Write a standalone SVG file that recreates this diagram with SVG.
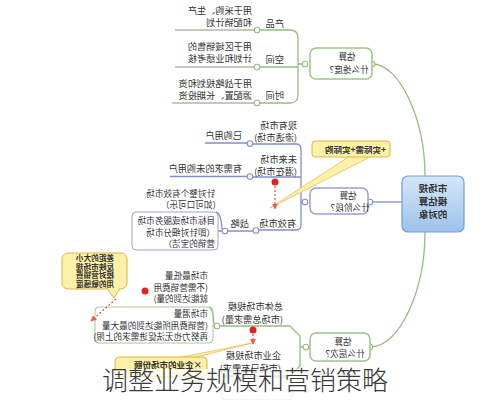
<svg xmlns="http://www.w3.org/2000/svg" width="490" height="400" viewBox="0 0 490 400">
<defs>
<linearGradient id="cg" x1="0" y1="0" x2="0" y2="1">
<stop offset="0" stop-color="#d6e7f9"/><stop offset="1" stop-color="#9dc2eb"/>
</linearGradient>
<marker id="ah" viewBox="0 0 8 8" refX="7" refY="4" markerWidth="5" markerHeight="5" orient="auto"><path d="M0,0 L8,4 L0,8 Z" fill="#e8603a"/></marker>
</defs>
<style>
text{font-family:"Noto Sans CJK SC","Noto Sans",sans-serif;fill:#333;font-size:9.2px}
.g{fill:none;stroke:#96bd84;stroke-width:1.3}
.p{fill:none;stroke:#858dcc;stroke-width:1.3}
.ulg{fill:none;stroke:#7f9a72;stroke-width:1}
.dg{fill:#fff;stroke:#96bd84;stroke-width:1.1}
.dp{fill:#fff;stroke:#858dcc;stroke-width:1.1}
.red{fill:#e02424}
.dash{fill:none;stroke:#e0504a;stroke-width:1.2;stroke-dasharray:2 2}
.call{fill:#fcf1a6;stroke:#e0b34c;stroke-width:1}
.tail{fill:#fcf1a6;stroke:#e6bc6a;stroke-width:0.8}
.b{font-weight:bold;font-size:8.5px}
.nd{font-size:8.6px;text-anchor:middle}
.sm{font-size:8.6px}
</style>
<rect width="490" height="400" fill="#fff"/>

<g id="connectors">
<path class="g" d="M372,64 C400,64 425,120 425,176"/>
<path class="p" d="M370,202 H402"/>
<path class="g" d="M370,347 C400,347 425,290 425,232"/>
<path class="g" d="M260,30 H290 Q298,30 298,38 V95 Q298,103 290,103 H260 M260,67 H298 M298,64 H302"/>
<path class="ulg" d="M175,30 H254 M175,67 H254 M172,103 H254"/>
<path class="p" d="M253,144 H296 Q301,144 301,149 V225 Q301,230 296,230 H259 M253,177 H301 M301,202 H302"/>
<path class="p" d="M205,143 H247 M170,176.5 H247 M228,231 H253 M222,231 H218 M222,229 Q221,213 216,212"/>
<path class="g" d="M220,326 H290 L300,336 V366 L290,376 H222 M300,347 H303 M214,326 H213 M214,324 Q213,308 209,307"/>
<circle class="dg" cx="372" cy="64" r="2.8"/>
<circle class="dg" cx="305" cy="64" r="2.8"/>
<circle class="dg" cx="257" cy="30" r="2.8"/>
<circle class="dg" cx="257" cy="67" r="2.8"/>
<circle class="dg" cx="257" cy="103" r="2.8"/>
<circle class="dp" cx="370" cy="202" r="2.8"/>
<circle class="dp" cx="305" cy="202" r="2.8"/>
<circle class="dp" cx="250" cy="143.5" r="2.8"/>
<circle class="dp" cx="250" cy="176.5" r="2.8"/>
<circle class="dp" cx="256" cy="230.5" r="2.8"/>
<circle class="dp" cx="225" cy="231" r="2.8"/>
<circle class="dg" cx="370" cy="347" r="2.8"/>
<circle class="dg" cx="306" cy="347" r="2.8"/>
<circle class="dg" cx="217" cy="326" r="2.8"/>
</g>

<g id="node-center">
<rect x="402" y="176" width="62" height="56" rx="6" fill="url(#cg)" stroke="#6f9fd8" stroke-width="1.2"/>
<text transform="matrix(-1 0 0 1 433 0)" style="text-anchor:middle;font-weight:bold;font-size:9.5px"><tspan x="0" y="192">市场规</tspan><tspan x="0" y="205">模估算</tspan><tspan x="0" y="218">的对象</tspan></text>
</g>

<g id="node-dimension">
<rect x="310" y="48" width="62" height="31" rx="6" fill="#fff" stroke="#9cc58a" stroke-width="1.5"/>
<text class="nd" transform="matrix(-1 0 0 1 347 0)"><tspan x="0" y="60">估算</tspan><tspan x="0" y="73">什么维度？</tspan></text>
</g>
<g id="node-product">
<text transform="matrix(-1 0 0 1 284 0)" y="27">产品</text>
<text transform="matrix(-1 0 0 1 252 0)"><tspan x="0" y="14">用于采购、生产</tspan><tspan x="0" y="26">和配销计划</tspan></text>
</g>
<g id="node-space">
<text transform="matrix(-1 0 0 1 284 0)" y="63">空间</text>
<text transform="matrix(-1 0 0 1 252 0)"><tspan x="0" y="50">用于区域销售的</tspan><tspan x="0" y="62">计划和业绩考核</tspan></text>
</g>
<g id="node-time">
<text transform="matrix(-1 0 0 1 284 0)" y="99">时间</text>
<text transform="matrix(-1 0 0 1 252 0)"><tspan x="0" y="87">用于战略规划和资</tspan><tspan x="0" y="99">源配置、长期投资</tspan></text>
</g>

<g id="node-stage">
<rect x="310" y="188" width="58" height="26" rx="6" fill="#fff" stroke="#98a0d2" stroke-width="1.5"/>
<text class="nd" transform="matrix(-1 0 0 1 348 0)"><tspan x="0" y="199">估算</tspan><tspan x="0" y="211">什么阶段？</tspan></text>
</g>
<g id="node-current">
<text transform="matrix(-1 0 0 1 297 0)"><tspan x="0" y="129">现有市场</tspan><tspan x="0" y="141">(渗透市场)</tspan></text>
<text transform="matrix(-1 0 0 1 242 0)" y="139">已购用户</text>
</g>
<g id="node-future">
<text transform="matrix(-1 0 0 1 297 0)"><tspan x="0" y="163">未来市场</tspan><tspan x="0" y="175">(潜在市场)</tspan></text>
<text transform="matrix(-1 0 0 1 242 0)" y="172">有需求的未购用户</text>
</g>
<g id="node-effective">
<text transform="matrix(-1 0 0 1 296 0)" y="227">有效市场</text>
</g>
<g id="node-strategy">
<text transform="matrix(-1 0 0 1 249 0)" y="227">战略</text>
<text class="sm" transform="matrix(-1 0 0 1 215 0)"><tspan x="0" y="197">针对整个有效市场</tspan><tspan x="-6" y="208">（如可口可乐）</tspan></text>
<rect x="132" y="212" width="86" height="38" rx="4" fill="none" stroke="#9aa1d4" stroke-width="1"/>
<text class="sm" transform="matrix(-1 0 0 1 215 0)"><tspan x="0" y="224">目标市场或服务市场</tspan><tspan x="0" y="235.5">（即针对细分市场</tspan><tspan x="0" y="247">营销的宝洁）</tspan></text>
</g>
<g id="callout-1">
<polygon class="tail" points="350,156 372,156 270,208"/>
<rect class="call" x="312" y="141" width="78" height="16" rx="3"/>
<text class="b" transform="matrix(-1 0 0 1 386 0)" y="152.5">+实际需+实际购</text>
</g>
<circle class="red" cx="275" cy="182" r="3.5"/>
<path class="dash" d="M275,186 V209" marker-end="url(#ah)"/>

<g id="node-level">
<rect x="310" y="333" width="60" height="28" rx="6" fill="#fff" stroke="#9cc58a" stroke-width="1.5"/>
<text class="nd" transform="matrix(-1 0 0 1 343 0)"><tspan x="0" y="345">估算</tspan><tspan x="0" y="357">什么层次？</tspan></text>
</g>
<g id="node-total">
<text transform="matrix(-1 0 0 1 283 0)"><tspan x="0" y="310">总体市场规模</tspan><tspan x="0" y="323">(市场总需求量)</tspan></text>
</g>
<g id="node-minimum">
<text class="sm" transform="matrix(-1 0 0 1 208 0)"><tspan x="0" y="279">市场最低量</tspan><tspan x="0" y="290.5">(不需营销费用</tspan><tspan x="0" y="302">就能达到的量)</tspan></text>
</g>
<g id="node-potential">
<rect x="95" y="307" width="118" height="36" rx="4" fill="none" stroke="#a8c99a" stroke-width="1"/>
<text class="sm" transform="matrix(-1 0 0 1 208 0)"><tspan x="0" y="317">市场潜量</tspan><tspan x="0" y="328.5">(营销费用所能达到的最大量</tspan><tspan x="0" y="340">再努力也无法促进需求的上限)</tspan></text>
</g>
<g id="node-company">
<text transform="matrix(-1 0 0 1 281 0)"><tspan x="0" y="359">企业市场规模</tspan><tspan x="0" y="372">(市场已有需求)</tspan></text>
<rect x="222" y="378" width="70" height="22" rx="4" fill="none" stroke="#a8c99a" stroke-width="1"/>
</g>
<circle class="red" cx="145" cy="291" r="3.5"/>
<circle class="red" cx="253" cy="330" r="3.5"/>
<path class="dash" d="M253,334 V344" marker-end="url(#ah)"/>
<g id="callout-2">
<rect class="call" x="62" y="253" width="65" height="36" rx="6"/>
<polygon class="call" points="107,288.5 120,288.5 114,298"/>
<path d="M107.5,288.5 H119.5" stroke="#fcf1a6" stroke-width="1.5"/>
<text class="b" transform="matrix(-1 0 0 1 95 0)" style="text-anchor:middle;font-size:7.6px"><tspan x="0" y="261">差距的大小</tspan><tspan x="0" y="269.5">反映市场规</tspan><tspan x="0" y="278">模对营销费</tspan><tspan x="0" y="286.5">用的敏感度</tspan></text>
</g>
<path class="dash" d="M116,299 L91,321" marker-end="url(#ah)"/>
<g id="callout-3">
<polygon class="tail" points="177,358 193,358 252,343"/>
<rect class="call" x="115" y="357" width="92" height="20" rx="4"/>
<text class="b" transform="matrix(-1 0 0 1 202 0)" y="367.5">×企业的市场份额</text>
</g>

<rect x="0" y="369" width="490" height="31" fill="#fff" opacity="0.72"/>
<text x="245" y="390" style="font-size:26px;text-anchor:middle;fill:#3a3a3a;font-weight:300">调整业务规模和营销策略</text>
</svg>
